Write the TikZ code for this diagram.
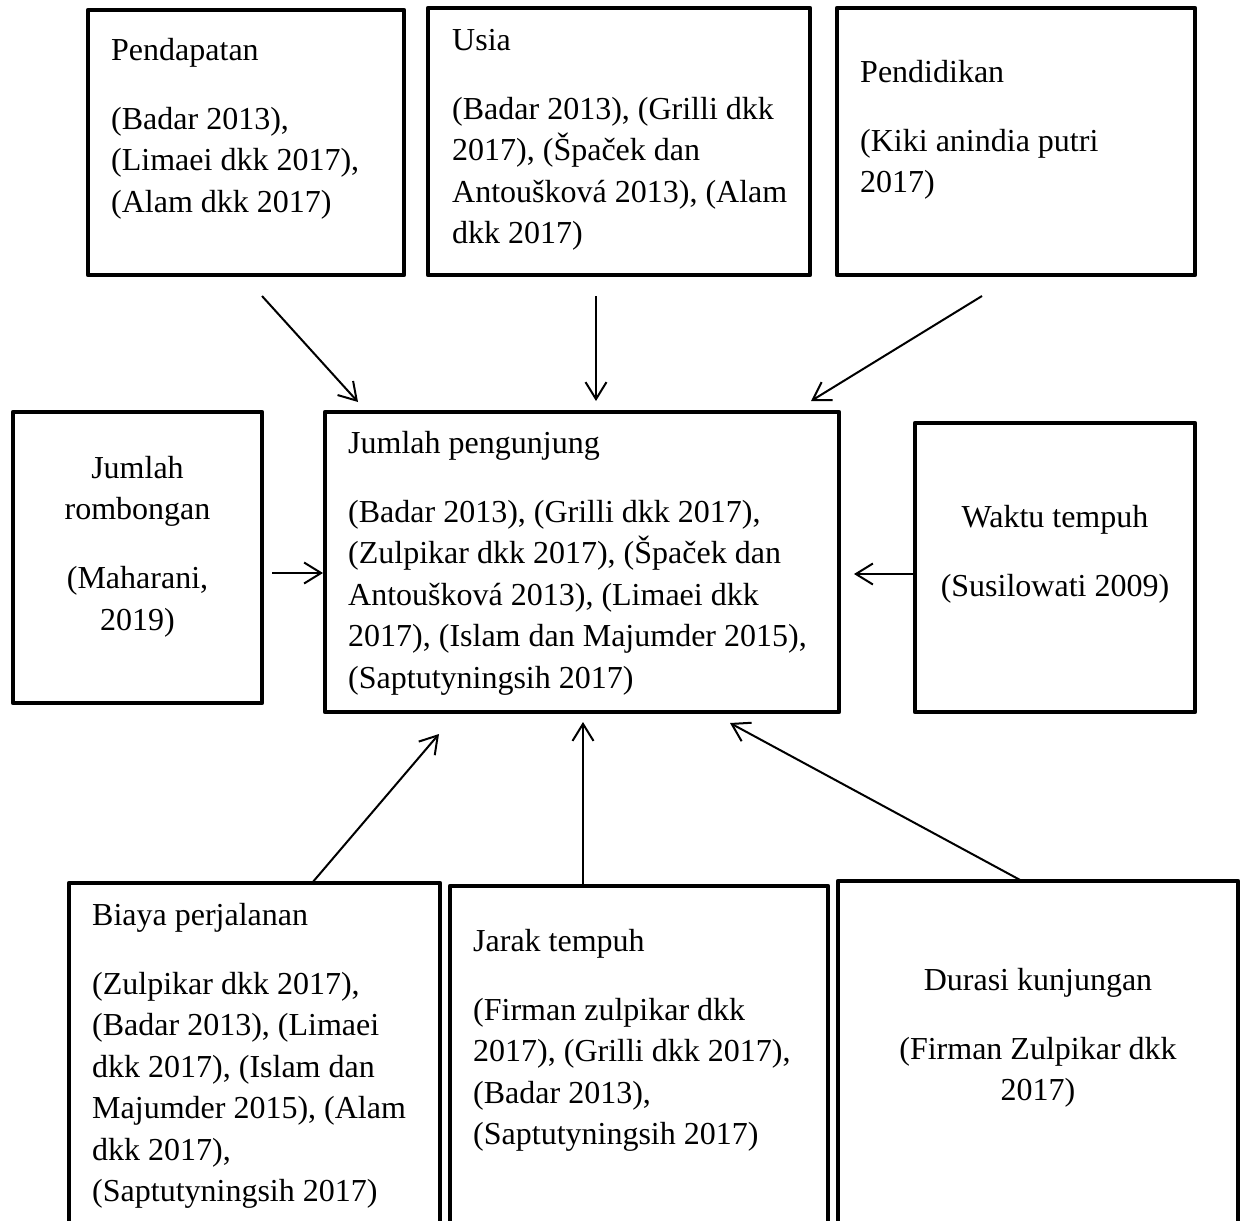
\documentclass[tikz,border=0pt]{standalone}
\usepackage{fontspec}
\setmainfont{Liberation Serif}
\usetikzlibrary{arrows.meta}
\newcommand{\celah}{\\[27.5pt]}
\tikzset{
  kotak/.style={draw, line width=4.5pt, line join=round, inner sep=0pt, outer sep=0pt},
  isi/.style={align=left, anchor=base west, inner sep=0pt},
  isitengah/.style={align=center, anchor=base, inner sep=0pt},
  panah/.style={line width=2pt, -{Straight Barb[length=17pt,width=21pt]}}
}

\begin{document}
\begin{tikzpicture}[x=1pt,y=-1pt,font=\fontsize{32}{41.5}\selectfont]
\useasboundingbox (0,0) rectangle (1240,1221);
\clip (0,0) rectangle (1240,1221);
\node[kotak,minimum width=316pt,minimum height=265pt] (pendapatan) at (246,142.5) {};
\node[kotak,minimum width=382pt,minimum height=267pt] (usia) at (619,141.5) {};
\node[kotak,minimum width=358pt,minimum height=267pt] (pendidikan) at (1016,141.5) {};
\node[kotak,minimum width=249pt,minimum height=291pt] (rombongan) at (137.5,557.5) {};
\node[kotak,minimum width=514pt,minimum height=300pt] (pengunjung) at (582,562) {};
\node[kotak,minimum width=280pt,minimum height=289pt] (waktu) at (1055,567.5) {};
\node[kotak,minimum width=371pt,minimum height=420pt] (biaya) at (254.5,1093) {};
\node[kotak,minimum width=378pt,minimum height=420pt] (jarak) at (639,1096) {};
\node[kotak,minimum width=400pt,minimum height=420pt] (durasi) at (1038,1091) {};
% teks: koordinat = garis dasar baris terakhir
\node[isi] (t-pendapatan) at (111,212) {Pendapatan\celah (Badar 2013),\\(Limaei dkk 2017),\\(Alam dkk 2017)};
\node[isi] (t-usia) at (452,243.5) {Usia\celah (Badar 2013), (Grilli dkk\\2017), (Špaček dan\\Antoušková 2013), (Alam\\dkk 2017)};
\node[isi] (t-pendidikan) at (860,192.5) {Pendidikan\celah (Kiki anindia putri\\2017)};
\node[isitengah] (t-rombongan) at (137.5,630) {Jumlah\\rombongan\celah (Maharani,\\2019)};
\node[isi] (t-pengunjung) at (348,688) {Jumlah pengunjung\celah (Badar 2013), (Grilli dkk 2017),\\(Zulpikar dkk 2017), (Špaček dan\\Antoušková 2013), (Limaei dkk\\2017), (Islam dan Majumder 2015),\\(Saptutyningsih 2017)};
\node[isitengah] (t-waktu) at (1055,596) {Waktu tempuh\celah (Susilowati 2009)};
\node[isi] (t-biaya) at (92,1201.5) {Biaya perjalanan\celah (Zulpikar dkk 2017),\\(Badar 2013), (Limaei\\dkk 2017), (Islam dan\\Majumder 2015), (Alam\\dkk 2017),\\(Saptutyningsih 2017)};
\node[isi] (t-jarak) at (473,1144.5) {Jarak tempuh\celah (Firman zulpikar dkk\\2017), (Grilli dkk 2017),\\(Badar 2013),\\(Saptutyningsih 2017)};
\node[isitengah] (t-durasi) at (1038,1100.5) {Durasi kunjungan\celah (Firman Zulpikar dkk\\2017)};
\draw[panah] ([xshift=16pt,yshift=-21pt]pendapatan.south) -- ([xshift=33pt,yshift=10pt]pengunjung.north west);
\draw[panah] ([xshift=-23pt,yshift=-21pt]usia.south) -- ([xshift=14pt,yshift=11pt]pengunjung.north);
\draw[panah] ([xshift=-34pt,yshift=-21pt]pendidikan.south) -- ([xshift=-28pt,yshift=11pt]pengunjung.north east);
\draw[panah] ([xshift=10pt,yshift=-15.5pt]rombongan.east) -- ([xshift=-2pt,yshift=-11pt]pengunjung.west);
\draw[panah] ([yshift=-6.5pt]waktu.west) -- ([xshift=15pt,yshift=-12pt]pengunjung.east);
\draw[panah] ([xshift=57.5pt]biaya.north) -- ([xshift=-143pt,yshift=-22pt]pengunjung.south);
\draw[panah] ([xshift=-56pt]jarak.north) -- ([xshift=1pt,yshift=-10pt]pengunjung.south);
\draw[panah] ([xshift=-16pt]durasi.north) -- ([xshift=148pt,yshift=-11pt]pengunjung.south);
\end{tikzpicture}
\end{document}
